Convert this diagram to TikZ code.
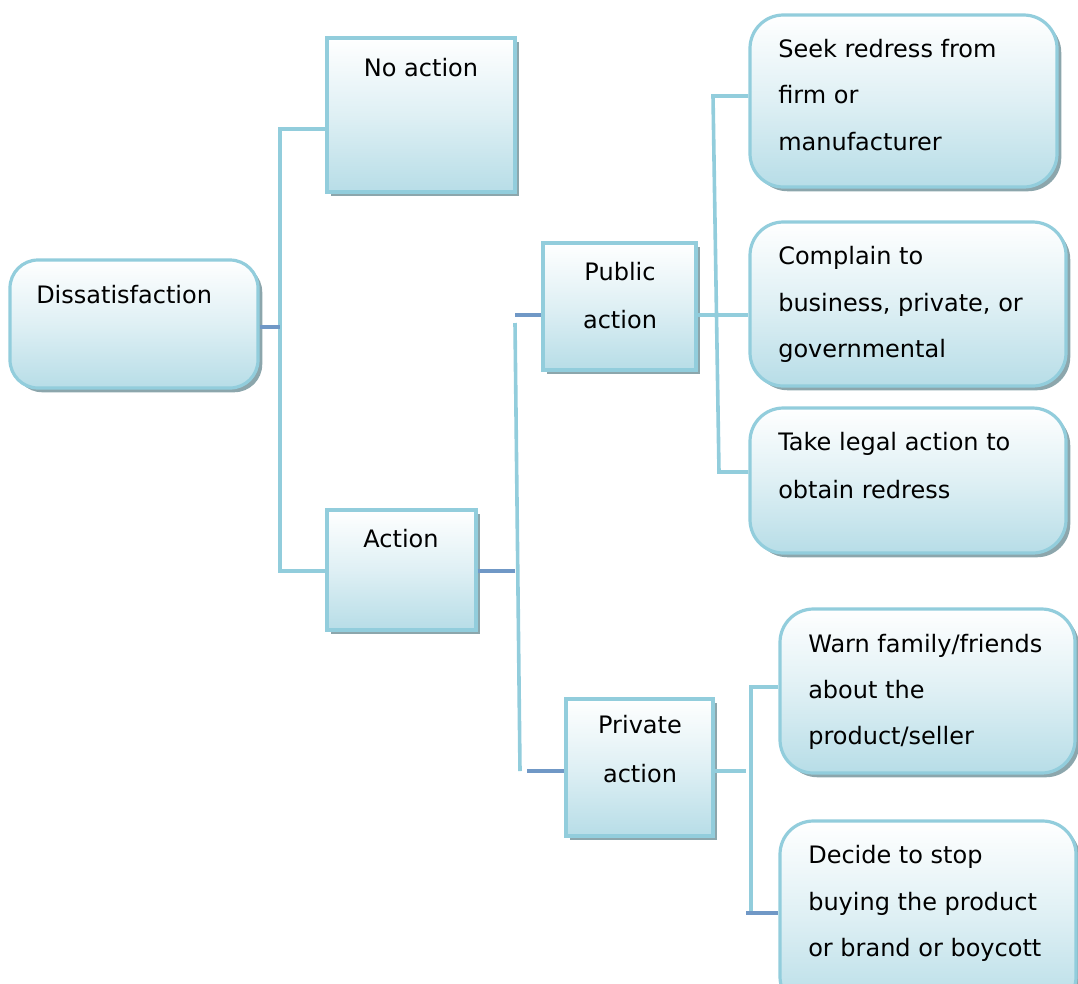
\documentclass[tikz,border=0pt]{standalone}
\usepackage{fontspec}
\setmainfont{DejaVu Sans}
\usetikzlibrary{shadows,fit}
\definecolor{bordc}{RGB}{146,205,220}
\definecolor{botc}{RGB}{183,221,231}
\definecolor{shadc}{RGB}{140,166,172}
\definecolor{darkc}{RGB}{112,152,198}
\tikzset{
  boxbase/.style={draw=bordc, line width=2.4pt, inner sep=0pt,
    top color=white, bottom color=botc, middle color=botc!45,
    drop shadow={shadow xshift=3.2pt, shadow yshift=-3.2pt, fill=shadc, opacity=1}},
  sqbox/.style={boxbase},
  rbox/.style={boxbase, rounded corners=21pt},
  txt/.style={font=\fontsize{18pt}{20pt}\selectfont, inner sep=0pt},
  lightln/.style={draw=bordc, line width=2.7pt},
  darkln/.style={draw=darkc, line width=2.9pt}
}
\begin{document}
\begin{tikzpicture}[x=0.75pt,y=-0.75pt]
\useasboundingbox (0,0) rectangle (1078,983);
\clip (0,0) rectangle (1078,983);
% boxes
\node[rbox, fit={(10,260) (258,388)}] (dis) {};
\node[sqbox, fit={(327,38) (515,192)}] (noact) {};
\node[sqbox, fit={(327,510) (476,630)}] (act) {};
\node[sqbox, fit={(543,243) (696,370)}] (pub) {};
\node[sqbox, fit={(566,699) (713,836)}] (priv) {};
\node[rbox, rounded corners=25pt, fit={(750,15) (1057,187)}] (seek) {};
\node[rbox, rounded corners=25pt, fit={(750,222) (1066,386)}] (comp) {};
\node[rbox, rounded corners=25pt, fit={(750,408) (1066,553)}] (legal) {};
\node[rbox, rounded corners=25pt, fit={(780,609) (1075,773)}] (warn) {};
\node[rbox, rounded corners=25pt, fit={(780,821) (1076,1010)}] (decide) {};
% texts
\node[txt, anchor=base west] (tdis) at (36,303) {Dissatisfaction};
\node[txt, anchor=base] (tno) at (421,76) {No action};
\node[txt, anchor=base] (tact) at (401,547) {Action};
\node[txt, anchor=base] (tpub1) at (620,280) {Public};
\node[txt, anchor=base] (tpub2) at (620,328) {action};
\node[txt, anchor=base] (tpriv1) at (640,733) {Private};
\node[txt, anchor=base] (tpriv2) at (640,782) {action};
\node[txt, anchor=base west] (ts1) at (778,57) {Seek redress from};
\node[txt, anchor=base west] (ts2) at (778,103) {firm or};
\node[txt, anchor=base west] (ts3) at (778,150) {manufacturer};
\node[txt, anchor=base west] (tc1) at (778,264) {Complain to};
\node[txt, anchor=base west] (tc2) at (778,311) {business, private, or};
\node[txt, anchor=base west] (tc3) at (778,357) {governmental};
\node[txt, anchor=base west] (tl1) at (778,450) {Take legal action to};
\node[txt, anchor=base west] (tl2) at (778,498) {obtain redress};
\node[txt, anchor=base west] (tw1) at (808,652) {Warn family/friends};
\node[txt, anchor=base west] (tw2) at (808,698) {about the};
\node[txt, anchor=base west] (tw3) at (808,744) {product/seller};
\node[txt, anchor=base west] (td1) at (808,863) {Decide to stop};
\node[txt, anchor=base west] (td2) at (808,910) {buying the product};
\node[txt, anchor=base west] (td3) at (808,956) {or brand or boycott};
% connectors: Dissatisfaction
\coordinate (jA) at (280,129);
\coordinate (jB) at (280,571);
\coordinate (jD) at (280,327);
\draw[lightln] (noact.west |- jA) -- (jA) -- (jB) -- (act.west |- jB);
\draw[darkln] (dis.east |- jD) -- (jD);
% Action
\coordinate (kA) at (515,571);
\coordinate (kT) at (515,323);
\coordinate (kB) at (520,771);
\coordinate (kP) at (515,315);
\coordinate (kQ) at (527,771);
\draw[darkln] (act.east |- kA) -- (kA);
\draw[lightln] (kT) -- (kB);
\draw[darkln] (kP) -- (pub.west |- kP);
\draw[darkln] (kQ) -- (priv.west |- kQ);
% Public action
\coordinate (mC) at (712,315);
\coordinate (mT) at (713,96);
\coordinate (mB) at (719,472);
\draw[lightln] (pub.east |- mC) -- (comp.west |- mC);
\draw[lightln] (seek.west |- mT) -- (mT) -- (mB) -- (legal.west |- mB);
% Private action
\coordinate (nA) at (746,771);
\coordinate (nT) at (751,687);
\coordinate (nB) at (751,913);
\coordinate (nD) at (746,913);
\draw[lightln] (priv.east |- nA) -- (nA);
\draw[lightln] (warn.west |- nT) -- (nT) -- (nB);
\draw[darkln] (nD) -- (decide.west |- nD);
\end{tikzpicture}
\end{document}
